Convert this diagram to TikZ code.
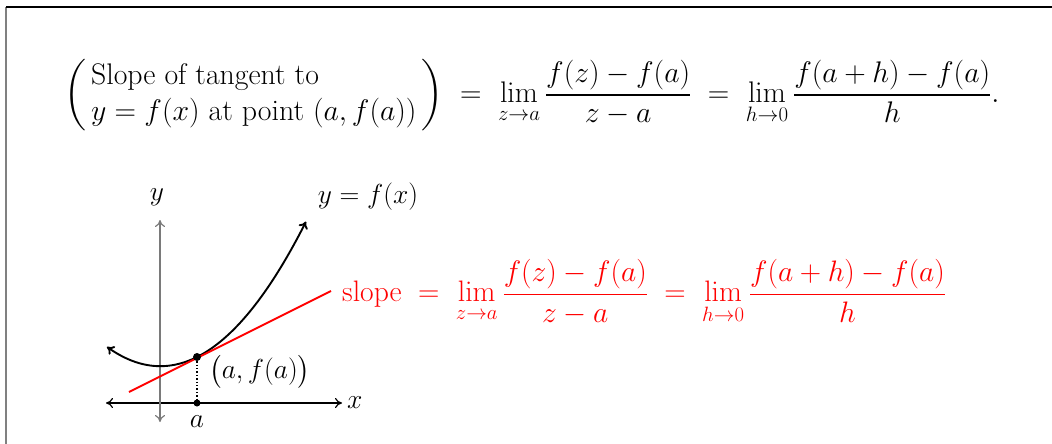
\RequirePackage{fix-cm}
\documentclass[tikz,border=0pt]{standalone}
\usepackage{amsmath,amssymb}
\usepackage{xcolor}
\usepackage{tikz}
\usetikzlibrary{arrows.meta,positioning}
\definecolor{AxisGray}{HTML}{7A7A7A}
\definecolor{FrameGray}{HTML}{808080}

\begin{document}
\begin{tikzpicture}[
    x=1pt,y=-1pt,
    axis/.style={{To[length=7pt,width=10pt]}-{To[length=7pt,width=10pt]},line width=1.2pt},
    curve/.style={{To[length=7pt,width=10pt]}-{To[length=7pt,width=10pt]},line width=1.9pt},
    tangent/.style={red,line width=1.9pt},
    dot/.style={circle,fill=black,inner sep=0pt,minimum size=8pt},
    lbl/.style={inner sep=1pt,font=\fontsize{27.5}{33}\selectfont}
]
\useasboundingbox (0,0) rectangle (1052,444);
% frame, cut off at the bottom and on the right
\draw[FrameGray,line width=2pt] (6,444) -- (6,7);
\draw[line width=1.2pt] (6,7) -- (1052,7);
% top formula
\node[anchor=west,inner sep=0pt,font=\fontsize{29.8}{36}\selectfont] (def) at (64,95)
  {$\displaystyle \left(\begin{array}{l}\text{Slope of tangent to}\\ y=f(x)\text{ at point }(a,f(a))\end{array}\right)
   \;=\; \lim_{z\to a}\frac{f(z)-f(a)}{z-a} \;=\; \lim_{h\to 0}\frac{f(a+h)-f(a)}{h}.$};
% axes
\coordinate (xl) at (106,403);
\coordinate (xr) at (342,403);
\coordinate (yt) at (160,220);
\coordinate (yb) at (160,422);
\draw[axis] (xl) -- (xr);
\draw[axis,draw=AxisGray] (yb) -- (yt);
\node[lbl,right=4pt of xr] (xlab) {$x$};
\node[lbl] (ylab) at (157,197) {$y$};
% graph and tangent
\draw[curve] plot[domain=-90:109,samples=80] ({197+\x},{357-(0.5*\x+0.0068*\x*\x)});
\node[lbl] (flab) at (368,197) {$y=f(x)$};
\coordinate (tl) at (129,392);
\coordinate (tr) at (331,291);
\draw[tangent] (tl) -- (tr);
\node[dot] (P) at (197,357) {};
\node[dot,minimum size=7pt] (A) at (197,403) {};
\draw[line width=1.4pt,dotted] (P) -- (A);
\node[lbl,below=8pt of A] (alab) {$a$};
\node[lbl,anchor=west] (plab) at (208,372) {$\bigl(a,f(a)\bigr)$};
% red formula
\node[anchor=west,inner sep=0pt,text=red,font=\fontsize{29.6}{36}\selectfont] (slope) at (342,292)
  {$\displaystyle \text{slope} \;=\; \lim_{z\to a}\frac{f(z)-f(a)}{z-a} \;=\; \lim_{h\to 0}\frac{f(a+h)-f(a)}{h}$};
\end{tikzpicture}
\end{document}
